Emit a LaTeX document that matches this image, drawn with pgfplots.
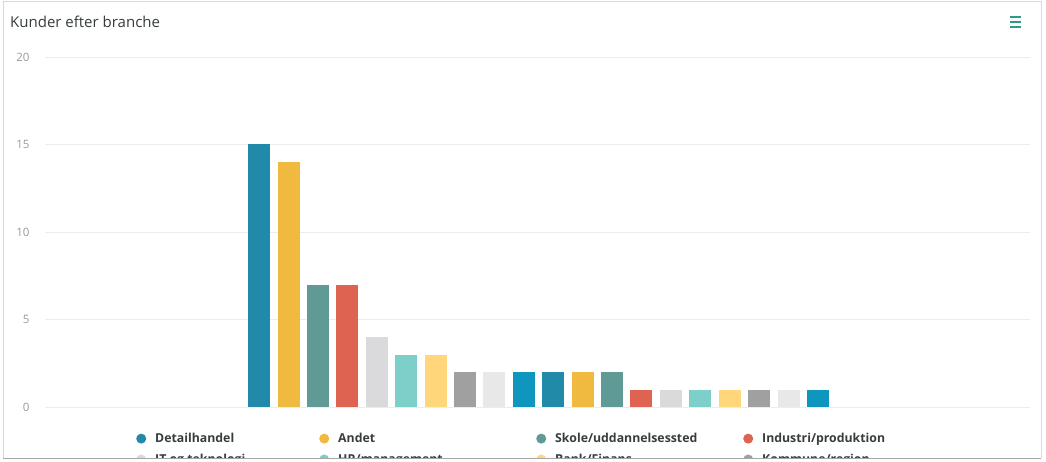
\documentclass[border=0pt]{standalone}
\usepackage{pgfplots}
\pgfplotsset{compat=1.18}
\usepackage{fontspec}
\setmainfont{Open Sans}
\definecolor{c1}{HTML}{218AA8}
\definecolor{c2}{HTML}{F0BA41}
\definecolor{c3}{HTML}{5F9A96}
\definecolor{c4}{HTML}{DE6350}
\definecolor{c5}{HTML}{DADADD}
\definecolor{c6}{HTML}{7DCFC9}
\definecolor{c7}{HTML}{FFD77A}
\definecolor{c8}{HTML}{A0A0A0}
\definecolor{c9}{HTML}{E8E8E8}
\definecolor{c10}{HTML}{0E96BF}
\definecolor{gridgray}{HTML}{ECECEC}
\definecolor{tickgray}{HTML}{9A9A9A}
\definecolor{titlegray}{HTML}{373D3F}
\definecolor{icongreen}{HTML}{2E9C84}
\pgfplotsset{mybar/.style={fill=#1, draw=none, bar shift=0pt}}
\newcommand{\legitem}[2]{\makebox[#1pt][l]{\hspace*{7pt}#2}}
\begin{document}
\begin{tikzpicture}[x=1pt,y=1pt]
\useasboundingbox (0,0) rectangle (1046,461);
\fill[white] (0,0) rectangle (1046,461);
\begin{scope}
\clip (0,3.5) rectangle (1046,461);
\begin{axis}[
  at={(45pt,54pt)}, anchor=south west,
  scale only axis, width=985pt, height=350pt,
  xmin=-6.28, xmax=27.21, ymin=0, ymax=20,
  ytick={0,5,10,15,20}, xtick=\empty,
  axis line style={draw=none}, major tick length=0pt,
  ymajorgrids, grid style={color=gridgray, line width=0.8pt},
  yticklabel style={font=\fontsize{11.5}{13}\selectfont, text=tickgray, anchor=east, xshift=-12pt},
  /pgf/number format/assume math mode=true,
  ybar, bar width=22pt,
  clip=false,
  legend columns=4,
  legend image code/.code={\fill[#1] (0pt,0pt) circle (5pt);},
  legend style={draw=none, fill=none, at={(axis description cs:0.0924,-0.0686)}, anchor=north west,
    font=\bfseries\fontsize{12.3}{14}\selectfont, text=titlegray, inner sep=0pt,
    /tikz/every even column/.append style={column sep=0pt},
    row sep=6pt},
]
\addplot[mybar=c1] coordinates {(1,15)};
\addlegendentry{\legitem{169}{Detailhandel}}
\addplot[mybar=c2] coordinates {(2,14)};
\addlegendentry{\legitem{203}{Andet}}
\addplot[mybar=c3] coordinates {(3,7)};
\addlegendentry{\legitem{193}{Skole/uddannelsessted}}
\addplot[mybar=c4] coordinates {(4,7)};
\addlegendentry{\legitem{150}{Industri/produktion}}
\addplot[mybar=c5] coordinates {(5,4)};
\addlegendentry{\legitem{169}{IT og teknologi}}
\addplot[mybar=c6] coordinates {(6,3)};
\addlegendentry{\legitem{203}{HR/management}}
\addplot[mybar=c7] coordinates {(7,3)};
\addlegendentry{\legitem{193}{Bank/Finans}}
\addplot[mybar=c8] coordinates {(8,2)};
\addlegendentry{\legitem{150}{Kommune/region}}
\addplot[mybar=c9] coordinates {(9,2)};
\addplot[mybar=c10] coordinates {(10,2)};
\addplot[mybar=c1] coordinates {(11,2)};
\addplot[mybar=c2] coordinates {(12,2)};
\addplot[mybar=c3] coordinates {(13,2)};
\addplot[mybar=c4] coordinates {(14,1)};
\addplot[mybar=c5] coordinates {(15,1)};
\addplot[mybar=c6] coordinates {(16,1)};
\addplot[mybar=c7] coordinates {(17,1)};
\addplot[mybar=c8] coordinates {(18,1)};
\addplot[mybar=c9] coordinates {(19,1)};
\addplot[mybar=c10] coordinates {(20,1)};
\end{axis}
\end{scope}
\node[anchor=west, font=\fontsize{15}{17}\selectfont, text=titlegray, inner sep=0pt] at (10,439) {Kunder efter branche};
\foreach \yy in {434,439,444} \draw[icongreen, line width=1.5pt] (1010,\yy) -- (1021,\yy);
\draw[gray!30, line width=0.8pt] (3,3) -- (3,460) -- (1041,460) -- (1041,3);
\draw[gray!70, line width=0.8pt] (3,3) -- (1041,3);
\end{tikzpicture}
\end{document}
